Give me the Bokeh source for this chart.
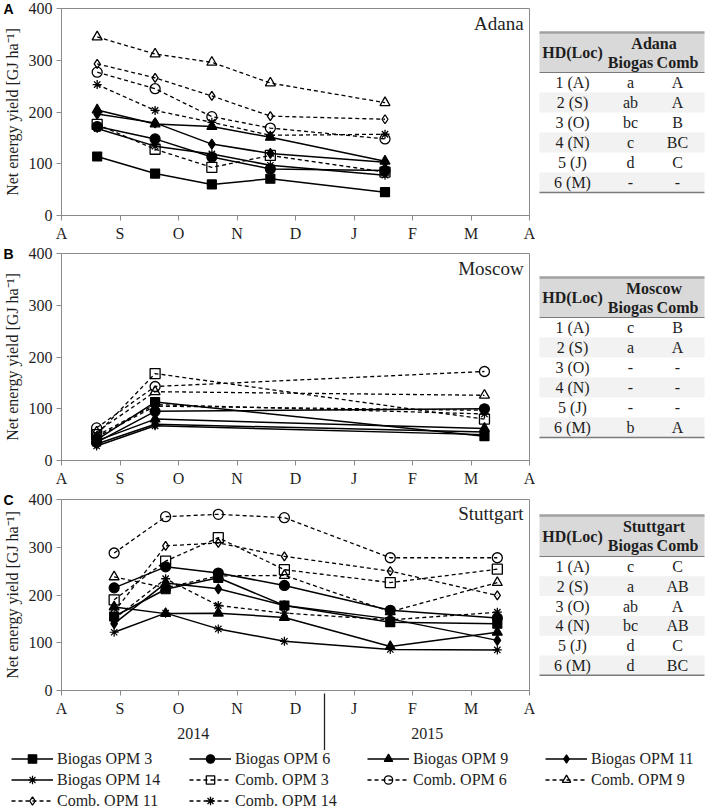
from bokeh.plotting import figure
from bokeh.models import Range1d, FixedTicker, LinearAxis, Label, Legend, LegendItem
from bokeh.layouts import column, row
from bokeh.embed import file_html
from bokeh.resources import INLINE
from bokeh.core.properties import value

# ---------------- data ----------------
month_ticks = [0, 1, 2, 3, 4, 5, 6, 7, 8]
month_labels = ["A", "S", "O", "N", "D", "J", "F", "M", "A"]
year_ticks = [2.25, 6.25]
year_labels = ["2014", "2015"]
year_divider = [4.5]
y_ticks = [0, 100, 200, 300, 400]

series_names = ["Biogas OPM 3", "Biogas OPM 6", "Biogas OPM 9", "Biogas OPM 11", "Biogas OPM 14",
                "Comb. OPM 3", "Comb. OPM 6", "Comb. OPM 9", "Comb. OPM 11", "Comb. OPM 14"]

# harvest dates in months after 1 August 2014
adana_dates = [0.61, 1.6, 2.57, 3.57, 5.53]
adana_biogas_opm3 = [114, 81, 60, 71, 45]
adana_biogas_opm6 = [172, 148, 113, 90, 87]
adana_biogas_opm9 = [204, 177, 172, 151, 105]
adana_biogas_opm11 = [196, 179, 138, 120, 103]
adana_biogas_opm14 = [168, 134, 119, 97, 78]
adana_comb_opm3 = [176, 128, 93, 116, 84]
adana_comb_opm6 = [277, 245, 191, 169, 148]
adana_comb_opm9 = [345, 312, 296, 256, 218]
adana_comb_opm11 = [293, 266, 231, 192, 186]
adana_comb_opm14 = [253, 203, 180, 155, 157]

moscow_dates = [0.6, 1.6, 7.23]
moscow_biogas_opm3 = [40, 113, 47]
moscow_biogas_opm6 = [35, 95, 100]
moscow_biogas_opm9 = [38, 80, 62]
moscow_biogas_opm11 = [32, 70, 55]
moscow_biogas_opm14 = [28, 67, 50]
moscow_comb_opm3 = [50, 168, 80]
moscow_comb_opm6 = [63, 143, 172]
moscow_comb_opm9 = [55, 133, 126]
moscow_comb_opm11 = [45, 105, 97]
moscow_comb_opm14 = [48, 108, 90]

stuttgart_dates = [0.9, 1.78, 2.68, 3.81, 5.62, 7.45]
stuttgart_biogas_opm3 = [155, 212, 236, 178, 143, 140]
stuttgart_biogas_opm6 = [215, 259, 246, 220, 168, 152]
stuttgart_biogas_opm9 = [175, 161, 162, 153, 92, 122]
stuttgart_biogas_opm11 = [140, 225, 213, 178, 150, 105]
stuttgart_biogas_opm14 = [122, 162, 129, 103, 86, 85]
stuttgart_comb_opm3 = [190, 271, 320, 253, 226, 254]
stuttgart_comb_opm6 = [288, 364, 369, 362, 278, 278]
stuttgart_comb_opm9 = [238, 215, 240, 241, 165, 226]
stuttgart_comb_opm11 = [165, 303, 309, 281, 250, 199]
stuttgart_comb_opm14 = [150, 234, 178, 162, 148, 164]

table_rows = ["1 (A)", "2 (S)", "3 (O)", "4 (N)", "5 (J)", "6 (M)"]
adana_biogas_letters = ["a", "ab", "bc", "c", "d", "-"]
adana_comb_letters = ["A", "A", "B", "BC", "C", "-"]
moscow_biogas_letters = ["c", "a", "-", "-", "-", "b"]
moscow_comb_letters = ["B", "A", "-", "-", "-", "A"]
stuttgart_biogas_letters = ["c", "a", "ab", "bc", "d", "d"]
stuttgart_comb_letters = ["C", "AB", "A", "AB", "C", "BC"]

# ---------------- style ----------------
FONT = "Liberation Serif"
AXIS_COLOR = "#8a8a8a"
TEXT_COLOR = "#1e1e1e"
markers = ["square", "circle", "triangle", "diamond", "asterisk"] * 2
sizes = [9, 10, 10, 10, 9, 10, 10, 10, 9, 9]

CHART_W = 535
TABLE_W = 173
LEFT = 61
RIGHT = 6


def style_kwargs(i):
    comb = i >= 5
    line = dict(line_color="black", line_width=1.3 if comb else 1.5,
                line_dash="4 3" if comb else "solid")
    pts = dict(marker=markers[i], size=sizes[i], line_color="black",
               line_width=1.3 if comb else 1.2,
               fill_color="white" if comb else "black",
               fill_alpha=0.0 if comb else 1.0)
    return line, pts


def make_chart(letter, loc, dates, series, top, frame_h, bottom, years=False):
    p = figure(width=CHART_W, height=top + frame_h + bottom, title=None,
               x_range=Range1d(0, 8), y_range=Range1d(0, 400),
               output_backend="svg", toolbar_location=None,
               min_border_left=LEFT, min_border_right=RIGHT,
               min_border_top=top, min_border_bottom=bottom)
    p.grid.grid_line_color = None
    p.outline_line_color = AXIS_COLOR
    p.outline_line_width = 1

    xa = p.xaxis[0]
    xa.ticker = FixedTicker(ticks=month_ticks)
    xa.major_label_overrides = {t: l for t, l in zip(month_ticks, month_labels)}
    ya = p.yaxis[0]
    ya.ticker = FixedTicker(ticks=y_ticks)
    ya.axis_label = "Net energy yield [GJ ha⁻¹]"
    ya.axis_label_standoff = 5
    ya.axis_label_text_font = FONT
    ya.axis_label_text_font_style = "normal"
    ya.axis_label_text_font_size = "16px"
    ya.axis_label_text_color = TEXT_COLOR
    for ax in (xa, ya):
        ax.axis_line_color = AXIS_COLOR
        ax.major_tick_line_color = AXIS_COLOR
        ax.major_tick_out = 5
        ax.major_tick_in = 0
        ax.minor_tick_line_color = None
        ax.major_label_text_font = FONT
        ax.major_label_text_font_size = "16px"
        ax.major_label_text_color = TEXT_COLOR
        ax.major_label_standoff = 4

    # panel letter, drawn as an outer left axis label at the top of the frame
    la = LinearAxis(ticker=FixedTicker(ticks=[400]), major_label_overrides={400: letter})
    la.axis_line_color = None
    la.major_tick_line_color = None
    la.minor_tick_line_color = None
    la.major_tick_out = 0
    la.major_tick_in = 0
    la.major_label_standoff = -13
    la.major_label_text_font = "Liberation Sans"
    la.major_label_text_font_style = "bold"
    la.major_label_text_font_size = "14px"
    la.major_label_text_color = "black"
    p.add_layout(la, "left")

    for i, name in enumerate(series_names):
        line_kw, pts_kw = style_kwargs(i)
        p.line(dates, series[i], **line_kw)
        p.scatter(dates, series[i], **pts_kw)

    p.add_layout(Label(x=7.9, y=392, text=loc, text_align="right", text_baseline="top",
                       text_font=FONT, text_font_size="19px", text_color=TEXT_COLOR))

    if years:
        ya2 = LinearAxis(ticker=FixedTicker(ticks=year_ticks, minor_ticks=year_divider),
                         major_label_overrides={t: l for t, l in zip(year_ticks, year_labels)})
        ya2.axis_line_color = None
        ya2.major_tick_line_color = None
        ya2.major_tick_out = 0
        ya2.major_tick_in = 0
        ya2.minor_tick_line_color = "#222222"
        ya2.minor_tick_line_width = 1.3
        ya2.minor_tick_in = 26
        ya2.minor_tick_out = 36
        ya2.major_label_standoff = -28
        ya2.major_label_text_font = FONT
        ya2.major_label_text_font_size = "16px"
        ya2.major_label_text_color = TEXT_COLOR
        p.add_layout(ya2, "below")
    return p


def make_table(loc, biogas_letters, comb_letters, height, frame_h, top_off, head_h, rh):
    # the table figure's frame is aligned with the chart frame of the same row
    t = figure(width=TABLE_W, height=height, title=None,
               x_range=Range1d(0, TABLE_W), y_range=Range1d(frame_h, 0),
               output_backend="svg", toolbar_location=None,
               x_axis_location=None, y_axis_location=None, min_border=0)
    t.grid.visible = False
    t.outline_line_color = None
    top = top_off
    x0, x1 = 4, 169
    c1, c2, c3 = 37, 95, 142
    n = len(table_rows)
    t.quad(left=[x0], right=[x1], top=[top], bottom=[top + head_h],
           fill_color="#d9d9d9", line_color=None)
    shaded = [i for i in range(n) if i % 2 == 1]
    t.quad(left=[x0] * len(shaded), right=[x1] * len(shaded),
           top=[top + head_h + i * rh for i in shaded],
           bottom=[top + head_h + (i + 1) * rh for i in shaded],
           fill_color="#f2f2f2", line_color=None)
    t.segment(x0=[x0], x1=[x1], y0=[top], y1=[top], line_color="#a0a0a0", line_width=2.5)
    t.segment(x0=[x0], x1=[x1], y0=[top + head_h], y1=[top + head_h],
              line_color="#7a7a7a", line_width=1)
    t.segment(x0=[x0], x1=[x1], y0=[top + head_h + n * rh], y1=[top + head_h + n * rh],
              line_color="#7a7a7a", line_width=1.5)
    t.text(x=[c1], y=[top + head_h / 2], text=["HD(Loc)"], text_align="center",
           text_baseline="middle", text_font=value(FONT), text_font_style="bold",
           text_font_size="16px", text_color=TEXT_COLOR)
    t.text(x=[(c2 + c3) / 2], y=[top + 11], text=[loc], text_align="center",
           text_baseline="middle", text_font=value(FONT), text_font_style="bold",
           text_font_size="16px", text_color=TEXT_COLOR)
    t.text(x=[c2, c3], y=[top + 30, top + 30], text=["Biogas", "Comb"], text_align="center",
           text_baseline="middle", text_font=value(FONT), text_font_style="bold",
           text_font_size="16px", text_color=TEXT_COLOR)
    ys = [top + head_h + (i + 0.5) * rh for i in range(n)]
    for cx, col in ((c1, table_rows), (c2, biogas_letters), (c3, comb_letters)):
        t.text(x=[cx] * n, y=ys, text=col, text_align="center", text_baseline="middle",
               text_font=value(FONT), text_font_size="16px", text_color=TEXT_COLOR)
    return t


def make_legend(height, dates, series):
    # legend panel; its renderers hold the Stuttgart series but lie outside the view
    lf = figure(width=CHART_W + TABLE_W, height=height, title=None,
                x_range=Range1d(0, 1), y_range=Range1d(-2, -1),
                output_backend="svg", toolbar_location=None,
                x_axis_location=None, y_axis_location=None, min_border=0)
    lf.grid.visible = False
    lf.outline_line_color = None
    items = []
    for i, name in enumerate(series_names):
        line_kw, pts_kw = style_kwargs(i)
        rl = lf.line(dates, series[i], **line_kw)
        rs = lf.scatter(dates, series[i], **pts_kw)
        items.append(LegendItem(label=name, renderers=[rl, rs]))
    lg = Legend(items=items, location=(11, 0), orientation="horizontal",
                ncols=4, glyph_width=42, glyph_height=21, label_width=132,
                label_height=16, label_standoff=4, spacing=-3, padding=0, margin=0,
                border_line_color=None, background_fill_alpha=0,
                label_text_font=FONT, label_text_font_size="16px",
                label_text_color=TEXT_COLOR)
    lf.add_layout(lg)
    return lf


adana_series = [adana_biogas_opm3, adana_biogas_opm6, adana_biogas_opm9, adana_biogas_opm11,
                adana_biogas_opm14, adana_comb_opm3, adana_comb_opm6, adana_comb_opm9,
                adana_comb_opm11, adana_comb_opm14]
moscow_series = [moscow_biogas_opm3, moscow_biogas_opm6, moscow_biogas_opm9, moscow_biogas_opm11,
                 moscow_biogas_opm14, moscow_comb_opm3, moscow_comb_opm6, moscow_comb_opm9,
                 moscow_comb_opm11, moscow_comb_opm14]
stuttgart_series = [stuttgart_biogas_opm3, stuttgart_biogas_opm6, stuttgart_biogas_opm9,
                    stuttgart_biogas_opm11, stuttgart_biogas_opm14, stuttgart_comb_opm3,
                    stuttgart_comb_opm6, stuttgart_comb_opm9, stuttgart_comb_opm11,
                    stuttgart_comb_opm14]

pA = make_chart("A", "Adana", adana_dates, adana_series, 8, 207, 30)
pB = make_chart("B", "Moscow", moscow_dates, moscow_series, 8, 207, 30)
pC = make_chart("C", "Stuttgart", stuttgart_dates, stuttgart_series, 9, 191, 60, years=True)
tA = make_table("Adana", adana_biogas_letters, adana_comb_letters, 245, 207, 24, 40, 20)
tB = make_table("Moscow", moscow_biogas_letters, moscow_comb_letters, 245, 207, 24, 40, 20)
tC = make_table("Stuttgart", stuttgart_biogas_letters, stuttgart_comb_letters, 260, 191, 16,
                41, 19.8)
lf = make_legend(61, stuttgart_dates, stuttgart_series)

layout = column(row(pA, tA), row(pB, tB), row(pC, tC), lf)
open("out.html", "w").write(file_html(layout, INLINE))
